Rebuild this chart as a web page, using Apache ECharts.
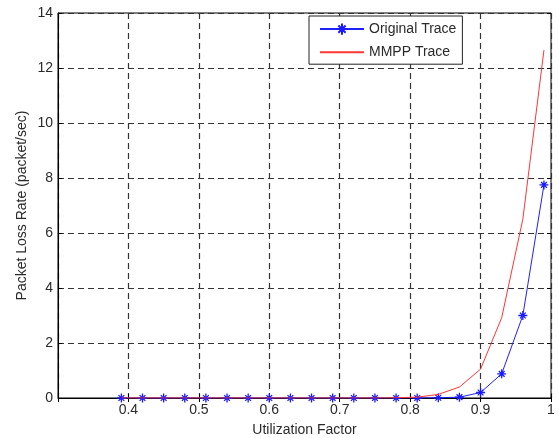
<!DOCTYPE html>
<html><head><meta charset="utf-8">
<script src="https://cdn.jsdelivr.net/npm/echarts@6/dist/echarts.min.js"></script>
<style>html,body{margin:0;padding:0;background:#fff}#c{width:559px;height:438px}</style>
</head><body><div id="c"></div>
<script>
var utilization = [0.39,0.42,0.45,0.48,0.51,0.54,0.57,0.60,0.63,0.66,0.69,0.72,0.75,0.78,0.81,0.84,0.87,0.90,0.93,0.96,0.99];
var originalTrace = [0,0,0,0,0,0,0,0,0,0,0,0,0,0,0,0.01,0.03,0.2,0.88,3.0,7.75];
var mmppTrace = [0,0,0,0,0,0,0,0,0,0,0,0,0,0.01,0.03,0.13,0.4,1.05,2.92,6.5,12.65];
var seriesNames = ['Original Trace','MMPP Trace'];
var xAxisTitle = 'Utilization Factor';
var yAxisTitle = 'Packet Loss Rate (packet/sec)';

function pairs(xs, ys){ return xs.map(function(x,i){return [x, ys[i]];}); }
var FONT = 'Liberation Sans, Arial, sans-serif';
var TXT = '#2a2a2a';
var star = 'path://M5,0L5,10M0,5L10,5M1.8,1.8L8.2,8.2M8.2,1.8L1.8,8.2';
var chart = echarts.init(document.getElementById('c'));
var dash = {color:'#333', width:1.2, type:[6,4]};
chart.setOption({
  animation:false,
  grid:{left:58,right:8,top:13,bottom:40,show:true,borderColor:'#000',borderWidth:1,backgroundColor:'#fff',
        containLabel:false, outerBoundsMode:'none'},
  legend:{
    left:309, top:16, orient:'vertical', backgroundColor:'#fff', borderColor:'#222', borderWidth:1,
    padding:[5,6,5,10], itemGap:8, itemWidth:44, itemHeight:14,
    textStyle:{fontFamily:FONT,fontSize:14,color:TXT},
    data:[{name:seriesNames[0]},{name:seriesNames[1],itemStyle:{opacity:0}}]
  },
  xAxis:[{
    type:'value', min:0.3, max:1, interval:0.1,
    name:xAxisTitle, nameLocation:'middle', nameGap:25, nameMoveOverlap:false,
    nameTextStyle:{fontFamily:FONT,fontSize:14,color:TXT},
    axisLine:{show:true,lineStyle:{color:'#000'}},
    axisTick:{show:true,inside:true,length:4,lineStyle:{color:'#000'}},
    axisLabel:{fontFamily:FONT,fontSize:14,color:TXT,margin:5,
      formatter:function(v){ if(Math.abs(v-0.3)<1e-6) return ''; return String(Math.round(v*10)/10); }},
    splitLine:{show:true,lineStyle:dash}
  },{
    type:'value', min:0.3, max:1, interval:0.1, position:'top',
    axisLine:{show:false}, axisTick:{show:true,inside:true,length:4,lineStyle:{color:'#000'}},
    axisLabel:{show:false}, splitLine:{show:false}
  }],
  yAxis:[{
    type:'value', min:0, max:14, interval:2,
    name:yAxisTitle, nameLocation:'middle', nameGap:29, nameMoveOverlap:false,
    nameTextStyle:{fontFamily:FONT,fontSize:14,color:TXT},
    axisLine:{show:true,lineStyle:{color:'#000'}},
    axisTick:{show:true,inside:true,length:4,lineStyle:{color:'#000'}},
    axisLabel:{fontFamily:FONT,fontSize:14,color:TXT,margin:5},
    splitLine:{show:true,lineStyle:dash}
  },{
    type:'value', min:0, max:14, interval:2, position:'right',
    axisLine:{show:false}, axisTick:{show:true,inside:true,length:4,lineStyle:{color:'#000'}},
    axisLabel:{show:false}, splitLine:{show:false}
  }],
  series:[{
    name:seriesNames[0], type:'line', data:pairs(utilization, originalTrace),
    lineStyle:{color:'#2020ff',width:1}, itemStyle:{color:'none',borderColor:'#1a1aff',borderWidth:1.3},
    color:'#2020ff',
    symbol:star, symbolSize:9, showAllSymbol:true, z:2
  },{
    name:seriesNames[1], type:'line', data:pairs(utilization, mmppTrace),
    lineStyle:{color:'#ff3535',width:1}, itemStyle:{color:'#ff3535'}, color:'#ff3535',
    symbol:'none', z:3
  }]
});
</script></body></html>
